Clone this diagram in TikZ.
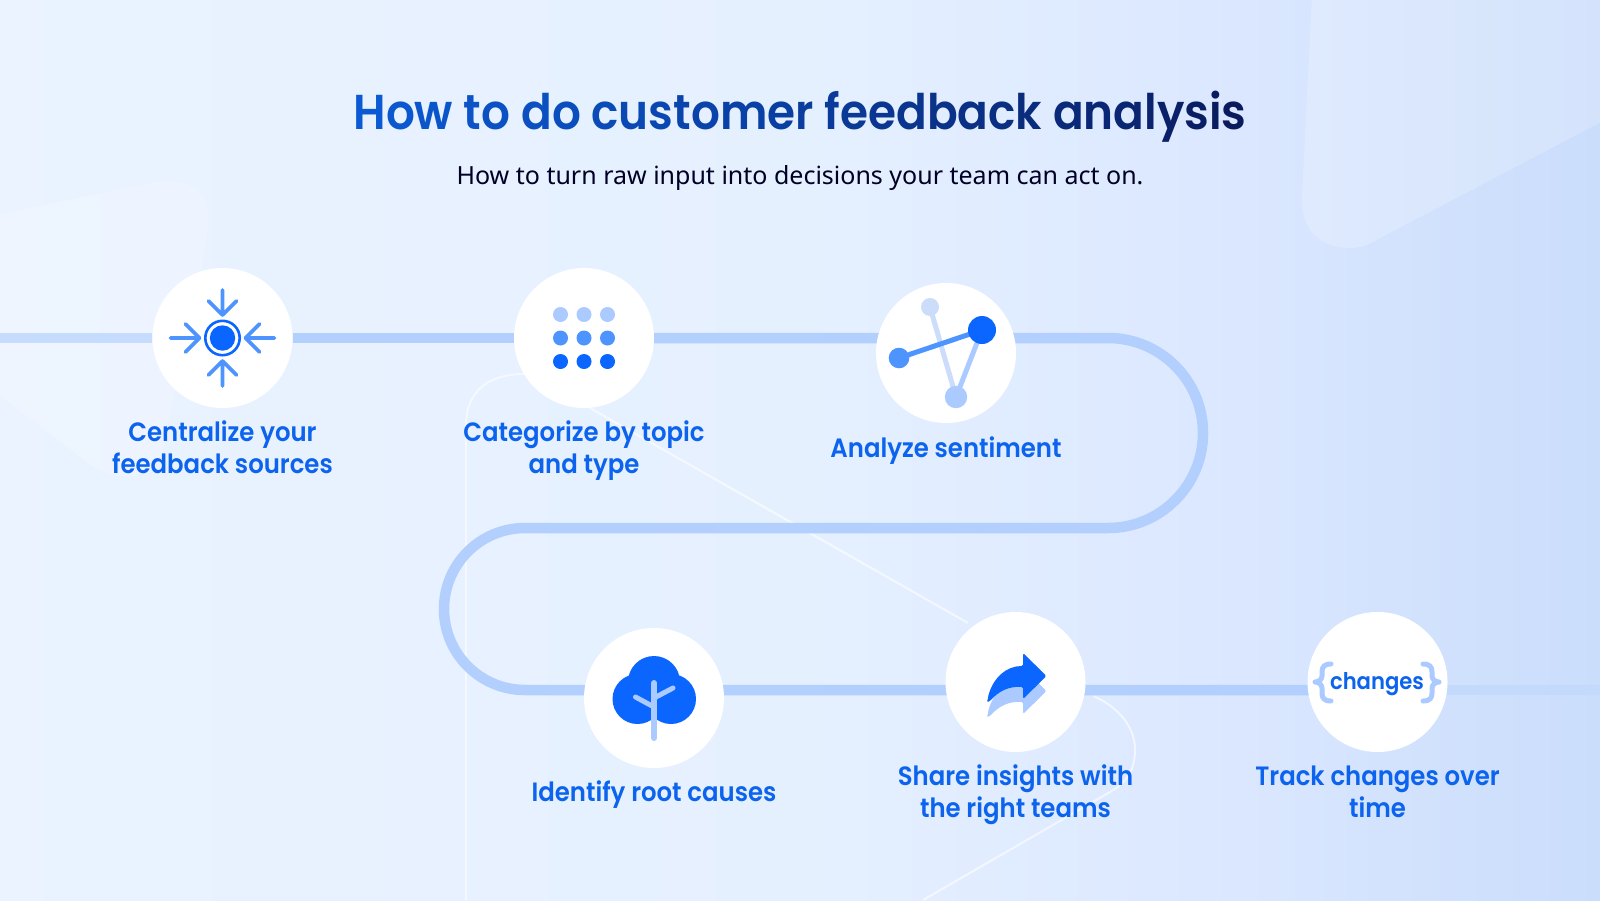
\documentclass[tikz,border=0pt]{standalone}
\usepackage{fontspec}
\usetikzlibrary{calc}
\setmainfont{Poppins}
\newfontfamily\titfont[FakeStretch=0.925]{Poppins SemiBold}
\newfontfamily\subfont{Noto Sans}
\newfontfamily\labfont[FakeStretch=0.92]{Poppins SemiBold}
\definecolor{bgA}{HTML}{EAF3FF}
\definecolor{bgB}{HTML}{E5F0FF}
\definecolor{bgC}{HTML}{DCE8FF}
\definecolor{bgD}{HTML}{C8DCFB}
\definecolor{trackc}{HTML}{B2CFFD}
\definecolor{trackL}{HTML}{C6DCFE}
\definecolor{trackR}{HTML}{C3DAFD}
\definecolor{blueA}{HTML}{0A66FF}
\definecolor{blueB}{HTML}{4D94FF}
\definecolor{blueC}{HTML}{ABCAFF}
\definecolor{blueD}{HTML}{CBDDFB}
\definecolor{labelc}{HTML}{0B63EE}
\definecolor{titA}{HTML}{0B5BD6}
\definecolor{titB}{HTML}{0A3D9E}
\definecolor{titC}{HTML}{0A1C60}
\pgfdeclarehorizontalshading{pagebg}{100bp}{color(0bp)=(bgA);color(25bp)=(bgA);color(50bp)=(bgB);color(62bp)=(bgC);color(75bp)=(bgD);color(100bp)=(bgD)}
\pgfdeclarelayer{back}
\pgfdeclarelayer{lines}
\pgfsetlayers{back,lines,main}
\makeatletter
\newcount\gcnt \newcount\gpct
\def\gword#1{\@tfor\gch:=#1\do{\gletter{\gch}}}
\def\gletter#1{\global\advance\gcnt by 1
  \gpct=\gcnt \multiply\gpct by 100 \divide\gpct by 15
  \ifnum\gpct<101 \textcolor{titB!\the\gpct!titA}{#1}%
  \else \advance\gpct by -100 \textcolor{titC!\the\gpct!titB}{#1}\fi}
\makeatother
\newcommand\lst{\vphantom{Cgy}}
\tikzset{
  disc/.style={circle,fill=white,minimum size=140pt,inner sep=0pt},
  steplabel/.style={text=labelc,align=center,font=\labfont\fontsize{26.5}{31.6}\selectfont,inner sep=0pt},
  track/.style={draw=trackc,line width=10.5pt},
  thin/.style={draw=white,line width=2pt,opacity=.6},
  ico/.style={line cap=round,line join=round},
}
\begin{document}
\begin{tikzpicture}[x=1pt,y=-1pt]
\useasboundingbox (0,0) rectangle (1600,900);
% nodes
\node[disc] (n1) at (222.5,338) {};
\node[disc] (n2) at (584,338) {};
\node[disc] (n3) at (946,353) {};
\node[disc] (n4) at (654,698) {};
\node[disc] (n5) at (1015.5,682) {};
\node[disc] (n6) at (1377.5,682) {};
\coordinate (inL) at (0,338);
\coordinate (outR) at (1600,690);
\coordinate (bendA) at (1108,338);
\coordinate (bendB) at (525,528);
\coordinate (foot) at (466,900);
\coordinate (footB) at (923,900);
\coordinate (diagA) at (590,408);
\coordinate (diagB) at (968,623);
\begin{pgfonlayer}{back}
\shade[shading=pagebg,shading angle=0] (-40,-40) rectangle (1640,940);
\fill[white,opacity=.2] (1312,-5) -- (1302,195) .. controls (1300,235) and (1325,248) .. (1350,248)
   .. controls (1362,248) and (1372,243) .. (1380,238) -- (1605,120) -- (1605,-5) -- cycle;
\fill[white,opacity=.2] (-5,215) -- (150,183) .. controls (195,175) and (212,195) .. (208,225)
   .. controls (200,300) and (178,370) .. (165,440) .. controls (158,478) and (125,485) .. (95,468) -- (-5,392) -- cycle;
\end{pgfonlayer}
\begin{pgfonlayer}{lines}
\draw[thin] (n2) ++(-60,36) .. controls (490,374) and (466,390) .. (466,425) -- (foot);
\draw[thin] (diagA) -- (diagB);
\draw[thin] (n5) ++(78,14) .. controls (1120,708) and (1135,728) .. (1135,750)
   .. controls (1135,768) and (1128,782) .. (1110,792) -- (footB);
\draw[track,draw=trackL] (inL) -- (n1);
\draw[track] (n1) -- (n2);
\draw[track] (n2) -- (bendA) arc[start angle=-90,end angle=90,radius=95] -- (bendB)
   arc[start angle=270,end angle=90,radius=81] -- (n6 |- 0,690);
\draw[track,draw=trackR] (n6 |- 0,690) -- (outR);
\end{pgfonlayer}
% title
\node[font=\titfont\fontsize{49}{52}\selectfont,inner sep=0pt] (title) at (800,117)
  {\gword{How}\ \gword{to}\ \gword{do}\ \gword{customer}\ \gword{feedback}\ \gword{analysis}};
\node[font=\subfont\fontsize{25}{30}\selectfont,text=black!85!blue,inner sep=0pt] (sub) at (800,178)
  {How to turn raw input into decisions your team can act on.};
% labels
\node[steplabel] (l1) at (222.5,450.5) {\lst Centralize your\\\lst feedback sources};
\node[steplabel] (l2) at (584,450.5) {\lst Categorize by topic\\\lst and type};
\node[steplabel] (l3) at (946,450.5) {\lst Analyze sentiment};
\node[steplabel] (l4) at (654,795) {\lst Identify root causes};
\node[steplabel] (l5) at (1015.5,795) {\lst Share insights with\\\lst the right teams};
\node[steplabel] (l6) at (1377.5,795) {\lst Track changes over\\\lst time};
% icon 1
\begin{scope}[shift={(n1.center)}]
 \fill[blueA] (0,0) circle[radius=12.7];
 \draw[blueA,line width=2.6pt] (0,0) circle[radius=17.2];
 \begin{scope}[blueB,line width=3.6pt,ico]
 \draw (-52,0) -- (-23,0) (-37,-14) -- (-23,0) -- (-37,14);
 \draw (52,0) -- (23,0) (37,-14) -- (23,0) -- (37,14);
 \draw (0,-48) -- (0,-23) (-14,-37) -- (0,-23) -- (14,-37);
 \draw (0,48) -- (0,23) (-14,37) -- (0,23) -- (14,37);
 \end{scope}
\end{scope}
% icon 2
\begin{scope}[shift={(n2.center)}]
 \foreach \xx in {-23.5,0,23.5}{
  \fill[blueC] (\xx,-23.5) circle[radius=7.5];
  \fill[blueB] (\xx,0) circle[radius=7.5];
  \fill[blueA] (\xx,23.5) circle[radius=7.5];
 }
\end{scope}
% icon 3
\begin{scope}[line width=5pt]
 \draw[blueD] (930,307) -- (956,397);
 \draw[blueC] (982,330) -- (956,397);
 \draw[blueB] (899,358) -- (982,330);
 \fill[blueD] (930,307) circle[radius=9];
 \fill[blueA] (982,330) circle[radius=14];
 \fill[blueB] (899,358) circle[radius=10.3];
 \fill[blueC] (956,397) circle[radius=11.2];
\end{scope}
% icon 4
\fill[blueA] (654,682) circle[radius=26] (637.5,699) circle[radius=25] (671,699) circle[radius=25] (654,695) circle[radius=22];
\begin{scope}[blueC,ico]
 \draw[line width=6pt] (654,683) -- (654,738);
 \draw[line width=5pt] (635.5,697) -- (654,707) (673,688) -- (654,698);
\end{scope}
% icon 5
\newcommand\shareshape{(1023,653) -- (1046.5,676) -- (1023,699) -- (1023,687)
  .. controls (1008,686) and (998,692) .. (990,701)
  .. controls (986,703) and (988,698) .. (988,697)
  .. controls (993,678) and (1006,666) .. (1023,666) -- cycle}
\begin{scope}[yshift=-15pt]
\fill[blueC,rounded corners=1.5pt] \shareshape;
\end{scope}
\fill[blueA,rounded corners=1.5pt] \shareshape;
% icon 6
\node[font=\labfont\fontsize{23}{26}\selectfont,text=labelc,inner sep=0pt] (brtext) at (1377,684) {changes};
\draw[blueC,line width=5pt,ico] (1331,664) .. controls (1324,664) and (1322,667) .. (1322,672) -- (1322,676)
  .. controls (1322,679) and (1319,682) .. (1315,682) .. controls (1319,682) and (1322,685) .. (1322,688) -- (1322,693)
  .. controls (1322,698) and (1324,701) .. (1331,701);
\draw[blueC,line width=5pt,ico] (1423,664) .. controls (1430,664) and (1432,667) .. (1432,672) -- (1432,676)
  .. controls (1432,679) and (1435,682) .. (1439,682) .. controls (1435,682) and (1432,685) .. (1432,688) -- (1432,693)
  .. controls (1432,698) and (1430,701) .. (1423,701);
\end{tikzpicture}
\end{document}
